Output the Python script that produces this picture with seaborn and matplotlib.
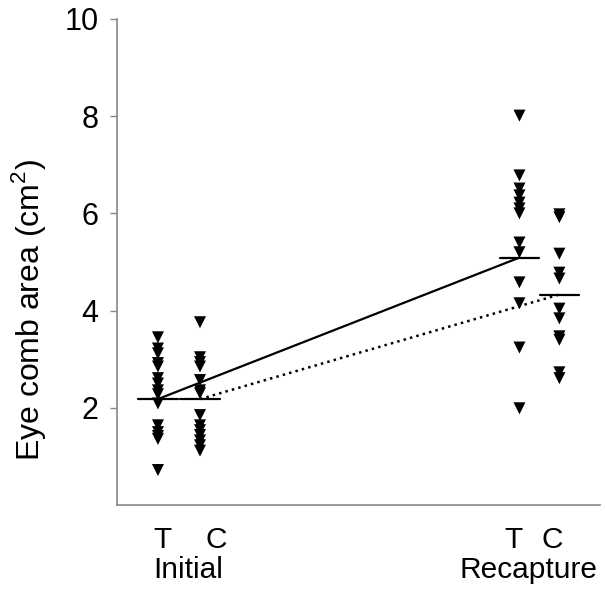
import matplotlib
matplotlib.use('Agg')
import matplotlib.pyplot as plt
import seaborn as sns
import pandas as pd

# values (cm^2)
initial_t = [3.45, 3.22, 3.12, 2.92, 2.85, 2.61, 2.50, 2.36, 2.28, 2.09,
             1.64, 1.50, 1.42, 1.36, 0.72]
initial_c = [3.76, 3.04, 2.94, 2.85, 2.57, 2.36, 2.30, 1.85, 1.64, 1.54,
             1.44, 1.33, 1.23, 1.12]
recap_t = [8.01, 6.78, 6.51, 6.37, 6.22, 6.10, 6.00, 5.40, 5.20, 4.58,
           4.15, 3.24, 1.99]
recap_c = [5.98, 5.92, 5.17, 4.78, 4.66, 4.04, 3.84, 3.47, 3.40, 2.73, 2.61]

groups = ['Initial', 'Initial', 'Recapture', 'Recapture']
treatments = ['T', 'C', 'T', 'C']
group_levels = [2.18, 2.18, 5.09, 4.33]   # horizontal bars in the reference

xpos = {('Initial', 'T'): 0.0, ('Initial', 'C'): 1.0,
        ('Recapture', 'T'): 8.6, ('Recapture', 'C'): 9.55}

rows = []
for g, t, vals in zip(groups, treatments, [initial_t, initial_c, recap_t, recap_c]):
    for v in vals:
        rows.append({'group': g, 'treatment': t, 'area': v, 'x': xpos[(g, t)]})
df = pd.DataFrame(rows)

sns.set_style('white')
plt.rcParams['font.family'] = ['Liberation Sans', 'DejaVu Sans']
plt.rcParams['mathtext.fontset'] = 'custom'
plt.rcParams['mathtext.rm'] = 'Liberation Sans'
plt.rcParams['text.color'] = 'black'
plt.rcParams['axes.labelcolor'] = 'black'
plt.rcParams['ytick.labelcolor'] = 'black'

f = plt.figure(figsize=(6.05, 5.9), dpi=100)
ax = f.add_axes([0.193, 0.144, 0.799, 0.824])

sns.scatterplot(data=df, x='x', y='area', marker='v', color='black',
                s=75, edgecolor='none', ax=ax, legend=False)

# group level bars
for g, t, lvl in zip(groups, treatments, group_levels):
    cx = xpos[(g, t)]
    ax.plot([cx - 0.47, cx + 0.47], [lvl, lvl], color='black', lw=1.6)

# connect initial -> recapture
ax.plot([xpos[('Initial', 'T')], xpos[('Recapture', 'T')]],
        [group_levels[0], group_levels[2]], color='black', lw=1.6)
ax.plot([xpos[('Initial', 'C')], xpos[('Recapture', 'C')]],
        [group_levels[1], group_levels[3]], color='black', lw=1.8, ls=':')

ax.set_xlim(-0.98, 10.52)
ax.set_ylim(0, 10)
ax.set_yticks([2, 4, 6, 8, 10])
ax.set_xticks([])
ax.set_xlabel('')
ax.set_ylabel('Eye comb area (cm$^{\\mathregular{2}}$)', fontsize=23)
ax.yaxis.set_label_coords(-0.143, 0.40)
ax.tick_params(axis='y', labelsize=22, length=5, width=1, color='#888888',
               direction='out', left=True, pad=8)

sns.despine(ax=ax)
for side in ['left', 'bottom']:
    ax.spines[side].set_color('#888888')
    ax.spines[side].set_linewidth(1.2)

trans = ax.get_xaxis_transform()
for lab, x in zip(['T', 'C', 'T', 'C'], [0.1, 1.38, 8.45, 9.38]):
    ax.text(x, -0.072, lab, transform=trans, ha='center', va='center', fontsize=21.5)
for lab, x in zip(['Initial', 'Recapture'], [0.71, 8.81]):
    ax.text(x, -0.134, lab, transform=trans, ha='center', va='center', fontsize=21.5)

f.savefig('out.png', dpi=100)
plt.close('all')
